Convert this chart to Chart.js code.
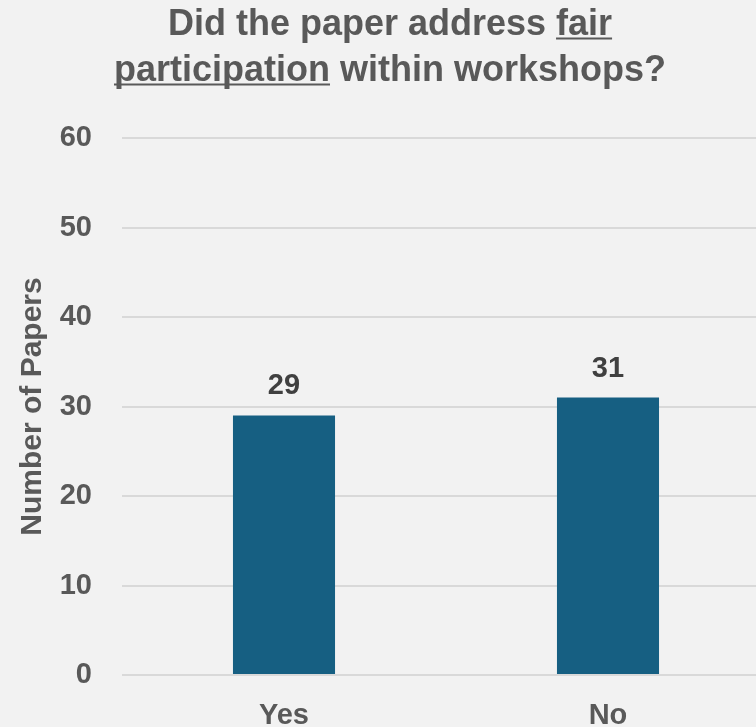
<!DOCTYPE html>
<html>
<head>
<meta charset="utf-8">
<script src="https://cdn.jsdelivr.net/npm/chart.js@4.4.1/dist/chart.umd.min.js"></script>
<style>
  html, body { margin: 0; padding: 0; background: #f2f2f2; overflow: hidden; width: 756px; height: 727px; }
  #wrap { position: absolute; left: 0; top: 0; width: 780px; height: 750px; }
</style>
</head>
<body>
<div id="wrap"><canvas id="c" width="780" height="750"></canvas></div>
<script>
const categories = ["Yes", "No"];
const paperCounts = [29, 31];
const yTicks = [0, 10, 20, 30, 40, 50, 60];
const titleLine1 = [{ text: "Did the paper address ", underline: false }, { text: "fair", underline: true }];
const titleLine2 = [{ text: "participation", underline: true }, { text: " within workshops?", underline: false }];
const yAxisTitle = "Number of Papers";

const FONT = "'Liberation Sans', Arial, sans-serif";
const TEXT = "#595959";

const titlePlugin = {
  id: 'richTitle',
  afterDraw(chart) {
    const ctx = chart.ctx;
    ctx.save();
    ctx.font = "bold 36px " + FONT;
    ctx.fillStyle = TEXT;
    ctx.textBaseline = 'alphabetic';
    ctx.textAlign = 'left';
    const cx = chart.width / 2;
    [[titleLine1, 35], [titleLine2, 81]].forEach(([parts, base]) => {
      const total = parts.reduce((s, p) => s + ctx.measureText(p.text).width, 0);
      let x = cx - total / 2;
      parts.forEach(p => {
        const w = ctx.measureText(p.text).width;
        ctx.fillText(p.text, x, base);
        if (p.underline) {
          ctx.fillRect(x, base + 2.5, w, 2);
        }
        x += w;
      });
    });
    ctx.restore();
  }
};

const valueLabels = {
  id: 'valueLabels',
  afterDatasetsDraw(chart) {
    const ctx = chart.ctx;
    ctx.save();
    ctx.font = "bold 29px " + FONT;
    ctx.fillStyle = "#404040";
    ctx.textAlign = 'center';
    ctx.textBaseline = 'alphabetic';
    chart.getDatasetMeta(0).data.forEach((bar, i) => {
      ctx.fillText(String(chart.data.datasets[0].data[i]), bar.x, bar.y - 21);
    });
    ctx.restore();
  }
};

new Chart(document.getElementById('c'), {
  type: 'bar',
  data: {
    labels: categories,
    datasets: [{
      data: paperCounts,
      backgroundColor: '#165f82',
      borderWidth: 0,
      barPercentage: 0.315,
      categoryPercentage: 1.0
    }]
  },
  options: {
    responsive: false,
    animation: false,
    devicePixelRatio: 1,
    layout: { padding: { top: 138, right: 10, left: 0, bottom: 0 } },
    plugins: { legend: { display: false }, tooltip: { enabled: false }, title: { display: false } },
    scales: {
      x: {
        grid: { display: false, drawTicks: false },
        border: { display: false },
        ticks: { color: TEXT, font: { family: FONT, size: 29, weight: 'bold' }, padding: 24 },
        afterFit(scale) { scale.height = 750 - 675; }
      },
      y: {
        min: 0, max: 60,
        afterBuildTicks(scale) { scale.ticks = yTicks.map(v => ({ value: v })); },
        grid: { color: '#d9d9d9', lineWidth: 2, drawTicks: false },
        border: { display: false },
        ticks: { color: TEXT, font: { family: FONT, size: 29, weight: 'bold' }, padding: 30 },
        title: {
          display: true, text: yAxisTitle, color: TEXT,
          font: { family: FONT, size: 30, weight: 'bold' },
          padding: { top: 15, bottom: 0 }
        },
        afterFit(scale) { scale.width = 122; }
      }
    }
  },
  plugins: [titlePlugin, valueLabels]
});
</script>
</body>
</html>
